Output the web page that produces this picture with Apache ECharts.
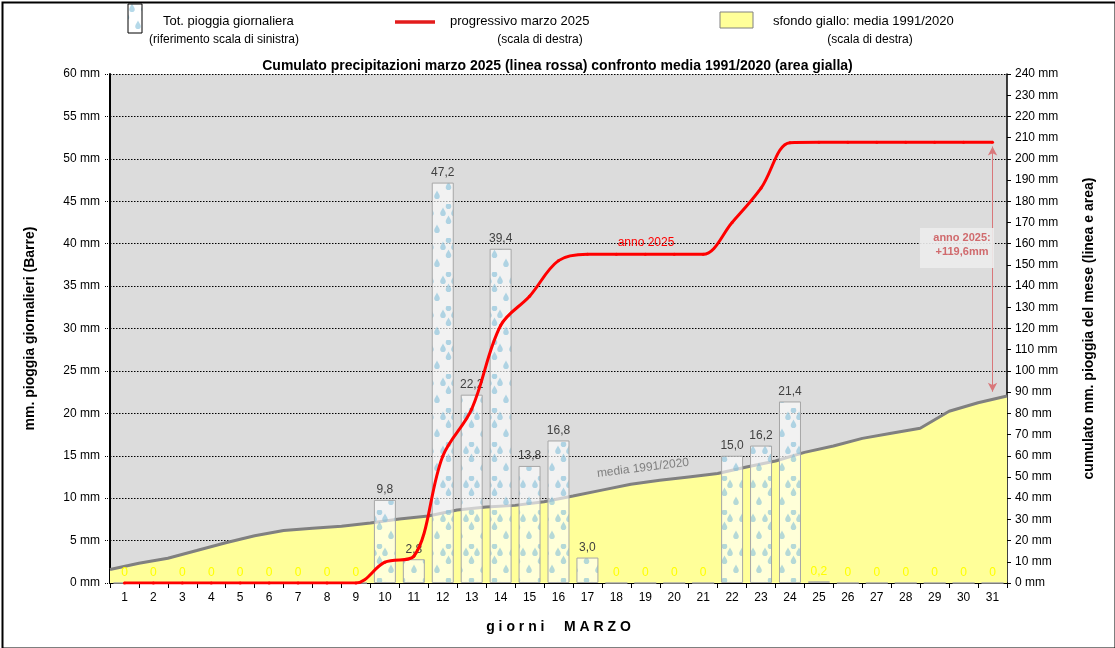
<!DOCTYPE html>
<html>
<head>
<meta charset="utf-8">
<script src="https://cdn.jsdelivr.net/npm/echarts@6/dist/echarts.min.js"></script>
<style>
html,body{margin:0;padding:0;background:#fff;}
#c{width:1115px;height:648px;}
</style>
</head>
<body>
<div id="c"></div>
<script>
// ---- data ----
var days = ['1','2','3','4','5','6','7','8','9','10','11','12','13','14','15','16','17','18','19','20','21','22','23','24','25','26','27','28','29','30','31'];
var dailyRain = [0,0,0,0,0,0,0,0,0,9.8,2.8,47.2,22.2,39.4,13.8,16.8,3.0,0,0,0,0,15.0,16.2,21.4,0.2,0,0,0,0,0,0];
var cumulative2025 = [0,0,0,0,0,0,0,0,0,9.8,12.6,59.8,82.0,121.4,135.2,152.0,155.0,155.0,155.0,155.0,155.0,170.0,186.2,207.6,207.8,207.8,207.8,207.8,207.8,207.8,207.8];
var boundaryIdx = ['0','1','2','3','4','5','6','7','8','9','10','11','12','13','14','15','16','17','18','19','20','21','22','23','24','25','26','27','28','29','30','31'];
var mean9120 = [6.4,9.3,11.7,15.3,19,22.3,24.8,25.8,26.8,28.3,30.2,31.6,34.4,35.8,36.6,38.3,41,43.8,46.6,48.4,50,51.6,54.7,57.5,61.6,64.6,68.2,70.6,73,81,85,88.2];
var leftTicks = {min:0, max:60, interval:5};
var rightTicks = {min:0, max:240, interval:10};
var finalDiff = 119.6;

// ---- drop pattern ----
function makePattern(w, h, bg){
  var cv = document.createElement('canvas');
  cv.width = w; cv.height = h;
  var ctx = cv.getContext('2d');
  ctx.fillStyle = bg; ctx.fillRect(0,0,w,h);
  function drop(x,y){
    ctx.beginPath();
    ctx.moveTo(x, y-4.5);
    ctx.bezierCurveTo(x+0.8, y-2.5, x+2.8, y-0.5, x+2.8, y+1.3);
    ctx.arc(x, y+1.3, 2.8, 0, Math.PI, false);
    ctx.bezierCurveTo(x-2.8, y-0.5, x-0.8, y-2.5, x, y-4.5);
    ctx.closePath();
    ctx.fill();
  }
  ctx.fillStyle = 'rgba(120,185,215,0.55)';
  drop(6,8); drop(17,8); drop(11.5,16);
  drop(11.5,1);
  drop(0,25); drop(23,25);
  return cv;
}
var barPattern = makePattern(23, 34, 'rgba(255,255,255,0.62)');

var F = 'Liberation Sans, Arial, sans-serif';
var chart = echarts.init(document.getElementById('c'));

var barData = dailyRain.map(function(v){
  return {value: v, label: {color: v < 1 ? '#ffff00' : '#404040'}};
});

var option = {
  backgroundColor: '#ffffff',
  animation: false,
  title: {
    text: 'Cumulato precipitazioni marzo 2025 (linea rossa) confronto media 1991/2020 (area gialla)',
    left: 'center', top: 54,
    textStyle: {fontFamily: F, fontSize: 14, fontWeight: 'bold', color: '#000'}
  },
  grid: {left: 110, right: 108, top: 74, bottom: 65, show: true, backgroundColor: '#dcdcdc', borderWidth: 0},
  xAxis: [{
    type: 'category', data: days, boundaryGap: true,
    name: 'g i o r n i     M A R Z O', nameLocation: 'middle', nameGap: 37,
    nameTextStyle: {fontFamily: F, fontSize: 14, fontWeight: 'bold', color: '#000'},
    axisLine: {lineStyle: {color: '#000', width: 2}},
    axisTick: {show: true, length: 5, lineStyle: {color: '#000'}},
    axisLabel: {fontFamily: F, fontSize: 12, color: '#000', margin: 9, interval: 0},
    splitLine: {show: false}
  }, {
    type: 'category', data: boundaryIdx, boundaryGap: false, show: false
  }],
  yAxis: [{
    type: 'value', position: 'left', min: leftTicks.min, max: leftTicks.max, interval: leftTicks.interval,
    name: 'mm. pioggia giornalieri (Barre)', nameLocation: 'middle', nameGap: 73, nameRotate: 90,
    nameTextStyle: {fontFamily: F, fontSize: 14, fontWeight: 'bold', color: '#000'},
    axisLine: {show: true, lineStyle: {color: '#000', width: 2}},
    axisTick: {show: true, length: 5, lineStyle: {color: '#000', type: 'dotted'}},
    axisLabel: {fontFamily: F, fontSize: 12, color: '#000', margin: 10, formatter: '{value} mm'},
    splitLine: {show: true, lineStyle: {color: '#000', type: [1.5, 1.5], width: 1}}
  }, {
    type: 'value', position: 'right', min: rightTicks.min, max: rightTicks.max, interval: rightTicks.interval,
    name: 'cumulato mm. pioggia del mese (linea e area)', nameLocation: 'middle', nameGap: 75, nameRotate: 90,
    nameTextStyle: {fontFamily: F, fontSize: 14, fontWeight: 'bold', color: '#000'},
    axisLine: {show: true, lineStyle: {color: '#000', width: 1.5}},
    axisTick: {show: true, length: 4, lineStyle: {color: '#000'}},
    axisLabel: {fontFamily: F, fontSize: 12, color: '#000', margin: 8, formatter: '{value} mm'},
    splitLine: {show: false}
  }],
  series: [{
    name: 'media 1991/2020', type: 'line', xAxisIndex: 1, yAxisIndex: 1,
    data: mean9120, symbol: 'none', smooth: false, z: 1,
    lineStyle: {color: '#808080', width: 3},
    areaStyle: {color: '#ffff99', opacity: 1}
  }, {
    name: 'Tot. pioggia giornaliera', type: 'bar', xAxisIndex: 0, yAxisIndex: 0,
    data: barData, barWidth: '76%', z: 3,
    itemStyle: {color: {image: barPattern, repeat: 'repeat'}, borderColor: '#a6a6a6', borderWidth: 1},
    label: {show: true, position: 'top', distance: 4, fontFamily: F, fontSize: 12,
      formatter: function(p){ var v = p.value; return v === 0 ? '0' : v.toFixed(1).replace('.', ','); }}
  }, {
    name: 'progressivo marzo 2025', type: 'line', xAxisIndex: 0, yAxisIndex: 1,
    data: cumulative2025, smooth: 0.35, z: 5,
    symbol: 'circle', symbolSize: 3, itemStyle: {color: '#ff0000'},
    lineStyle: {color: '#ff0000', width: 3},
    markLine: {
      silent: true, symbol: ['arrow', 'arrow'], symbolSize: [7, 9],
      lineStyle: {color: '#d9777a', width: 1, type: 'solid'},
      label: {show: false},
      data: [[{coord: ['31', cumulative2025[30] - 2]}, {coord: ['31', mean9120[31] + 2]}]]
    }
  }],
  graphic: [
    {type: 'rect', left: 0, top: 0, shape: {width: 1113, height: 646}, style: {fill: 'none', stroke: '#000', lineWidth: 2}, z: 100},
    // legend 1
    {type: 'rect', shape: {x: 128, y: 4, width: 14, height: 29}, style: {fill: {image: barPattern, repeat: 'repeat'}, stroke: '#000', lineWidth: 1}, z: 100},
    {type: 'text', style: {x: 163, y: 21, text: 'Tot. pioggia giornaliera', font: '13px ' + F, fill: '#000', textVerticalAlign: 'middle'}, z: 100},
    {type: 'text', style: {x: 224, y: 40, text: '(riferimento scala di sinistra)', font: '12px ' + F, fill: '#000', textAlign: 'center', textVerticalAlign: 'middle'}, z: 100},
    // legend 2
    {type: 'line', shape: {x1: 395, y1: 22, x2: 435, y2: 22}, style: {stroke: '#e31c1c', lineWidth: 3.5}, z: 100},
    {type: 'text', style: {x: 450, y: 21, text: 'progressivo marzo 2025', font: '13px ' + F, fill: '#000', textVerticalAlign: 'middle'}, z: 100},
    {type: 'text', style: {x: 540, y: 40, text: '(scala di destra)', font: '12px ' + F, fill: '#000', textAlign: 'center', textVerticalAlign: 'middle'}, z: 100},
    // legend 3
    {type: 'rect', shape: {x: 720, y: 12, width: 33, height: 16}, style: {fill: '#ffff99', stroke: '#808080', lineWidth: 1}, z: 100},
    {type: 'text', style: {x: 773, y: 21, text: 'sfondo giallo: media 1991/2020', font: '13px ' + F, fill: '#000', textVerticalAlign: 'middle'}, z: 100},
    {type: 'text', style: {x: 870, y: 40, text: '(scala di destra)', font: '12px ' + F, fill: '#000', textAlign: 'center', textVerticalAlign: 'middle'}, z: 100},
    // annotations
    {type: 'text', style: {x: 646, y: 243, text: 'anno 2025', font: '12px ' + F, fill: '#ff0000', textAlign: 'center', textVerticalAlign: 'middle'}, z: 100},
    {type: 'text', rotation: 7 * Math.PI / 180, style: {x: 0, y: 0, text: 'media 1991/2020', font: '12px ' + F, fill: '#808080', textAlign: 'center', textVerticalAlign: 'middle'}, x: 643, y: 468, z: 100},
    {type: 'rect', shape: {x: 920, y: 228, width: 74, height: 40}, style: {fill: 'rgba(236,236,236,0.9)'}, z: 100},
    {type: 'text', style: {x: 962, y: 238, text: 'anno 2025:', font: 'bold 11px ' + F, fill: '#d06a6d', textAlign: 'center', textVerticalAlign: 'middle'}, z: 101},
    {type: 'text', style: {x: 962, y: 252, text: '+' + finalDiff.toFixed(1).replace('.', ',') + 'mm', font: 'bold 11px ' + F, fill: '#d06a6d', textAlign: 'center', textVerticalAlign: 'middle'}, z: 101}
  ]
};
chart.setOption(option);
</script>
</body>
</html>
